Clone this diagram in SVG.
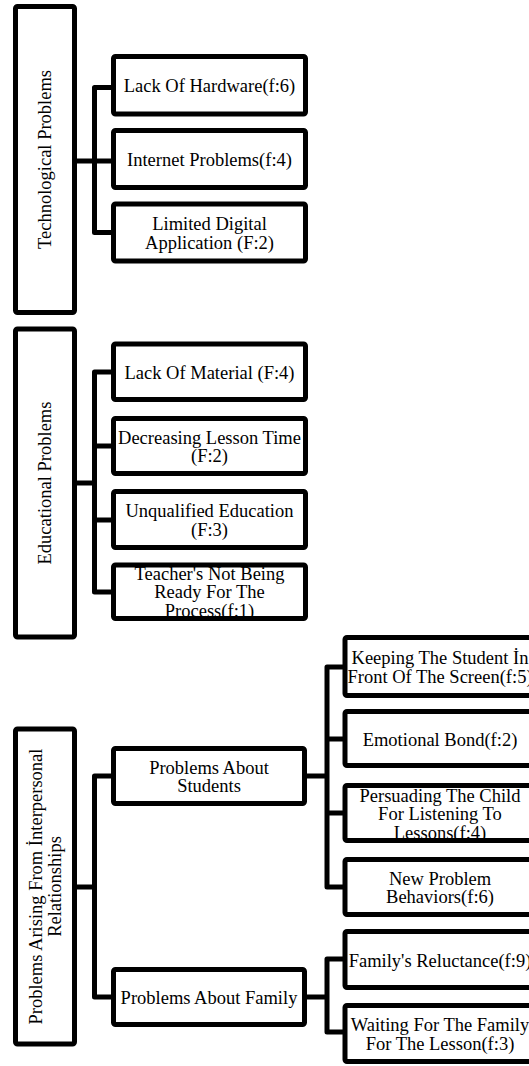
<svg xmlns="http://www.w3.org/2000/svg" width="529" height="1066" viewBox="0 0 529 1066">
<style>
.box{fill:#fff;stroke:#000;stroke-width:5}
.con{fill:none;stroke:#000;stroke-width:5;stroke-linejoin:round;stroke-linecap:butt}
text{font-family:"Liberation Serif","Times New Roman",serif;font-size:18.5px;fill:#000;text-anchor:middle}
</style>
<rect width="529" height="1066" fill="#fff"/>
<g id="connectors">
<path class="con" d="M112 87.5 H94.5 V232.5 H112 M75 161 H112"/>
<path class="con" d="M112 372 H94.5 V592 H112 M94.5 446 H112 M75 483 H94.5 M94.5 520 H112"/>
<path class="con" d="M112 776 H94.5 V997 H112 M75 887 H94.5"/>
<path class="con" d="M344 667 H327 V887 H344 M303 776 H327 M327 739 H344 M327 813 H344"/>
<path class="con" d="M344 959 H327 V1032 H344 M303 997 H327"/>
</g>
<g id="n-tech"><rect class="box" x="15.5" y="6.5" width="59" height="306" rx="2"/><text transform="translate(51,159.5) rotate(-90)">Technological Problems</text></g>
<g id="n-hardware"><rect class="box" x="113.5" y="56.5" width="192" height="57.5" rx="2"/><text x="209.5" y="92">Lack Of Hardware(f:6)</text></g>
<g id="n-internet"><rect class="box" x="113.5" y="130.5" width="192" height="57" rx="2"/><text x="209.5" y="166">Internet Problems(f:4)</text></g>
<g id="n-digital"><rect class="box" x="113.5" y="204" width="192" height="57" rx="2"/><text x="209.5" y="230.3">Limited Digital</text><text x="209.5" y="248.8">Application (F:2)</text></g>
<g id="n-edu"><rect class="box" x="15.5" y="329" width="59" height="308" rx="2"/><text transform="translate(51,483) rotate(-90)">Educational Problems</text></g>
<g id="n-material"><rect class="box" x="113.5" y="344" width="192" height="55.5" rx="2"/><text x="209.5" y="378.8">Lack Of Material (F:4)</text></g>
<g id="n-time"><rect class="box" x="113.5" y="418.5" width="192" height="55" rx="2"/><text x="209.5" y="443.8">Decreasing Lesson Time</text><text x="209.5" y="462.3">(F:2)</text></g>
<g id="n-unqualified"><rect class="box" x="113.5" y="491.5" width="192" height="56" rx="2"/><text x="209.5" y="517.3">Unqualified Education</text><text x="209.5" y="535.8">(F:3)</text></g>
<g id="n-teacher"><rect class="box" x="113.5" y="565" width="192" height="53.5" rx="2"/><text x="209.5" y="579.8">Teacher's Not Being</text><text x="209.5" y="598.3">Ready For The</text><text x="209.5" y="616.8">Process(f:1)</text></g>
<g id="n-inter"><rect class="box" x="15.5" y="729" width="59" height="315" rx="2"/><text transform="translate(41.5,886.5) rotate(-90)">Problems Arising From İnterpersonal</text><text transform="translate(60.5,886.5) rotate(-90)">Relationships</text></g>
<g id="n-students"><rect class="box" x="113.5" y="748.5" width="191" height="55" rx="2"/><text x="209" y="773.8">Problems About</text><text x="209" y="792.3">Students</text></g>
<g id="n-family"><rect class="box" x="113.5" y="969.5" width="191" height="55" rx="2"/><text x="209" y="1003.5">Problems About Family</text></g>
<g id="n-keeping"><rect class="box" x="345" y="637.5" width="190" height="58" rx="2"/><text x="440" y="664.3">Keeping The Student İn</text><text x="440" y="682.8">Front Of The Screen(f:5)</text></g>
<g id="n-emotional"><rect class="box" x="345" y="711.5" width="190" height="54" rx="2"/><text x="440" y="745.5">Emotional Bond(f:2)</text></g>
<g id="n-persuading"><rect class="box" x="345" y="785.5" width="190" height="55" rx="2"/><text x="440" y="801.5">Persuading The Child</text><text x="440" y="820">For Listening To</text><text x="440" y="838.5">Lessons(f:4)</text></g>
<g id="n-behaviors"><rect class="box" x="345" y="859.5" width="190" height="55" rx="2"/><text x="440" y="884.8">New Problem</text><text x="440" y="903.3">Behaviors(f:6)</text></g>
<g id="n-reluctance"><rect class="box" x="345" y="931.5" width="190" height="56" rx="2"/><text x="440" y="966.5">Family's Reluctance(f:9)</text></g>
<g id="n-waiting"><rect class="box" x="345" y="1005.5" width="190" height="56" rx="2"/><text x="440" y="1031.3">Waiting For The Family</text><text x="440" y="1049.8">For The Lesson(f:3)</text></g>
</svg>
